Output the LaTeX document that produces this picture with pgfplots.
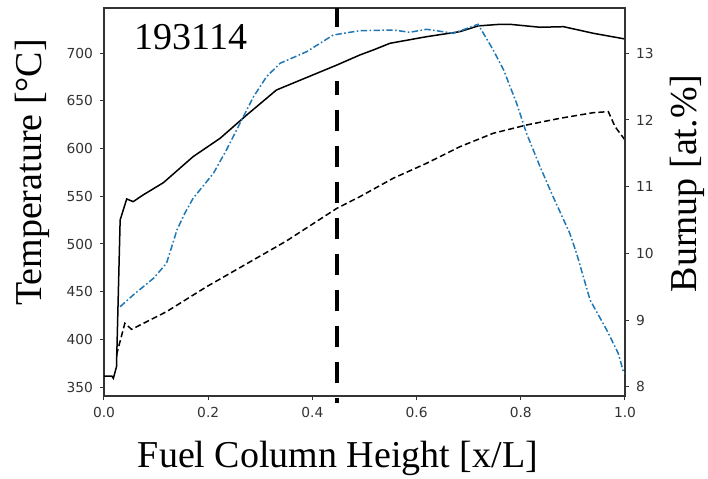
\documentclass[border=0pt]{standalone}
\usepackage{fontspec}
\setmainfont{Liberation Serif}
\newfontfamily\tickfont{DejaVu Sans}
\usepackage{pgfplots}
\pgfplotsset{compat=1.18}
\definecolor{mplblue}{HTML}{1F77B4}

\pgfplotsset{
  common/.style={
    width=260.5pt, height=194pt, scale only axis,
    xmin=0, xmax=1,
    tick align=outside,
    major tick length=2pt,
    tick style={black!80, line width=0.5pt},
    axis line style={black!80, line width=0.6pt},
    ticklabel style={font=\tickfont\fontsize{6.9}{8}\selectfont, text=black!80},
    /pgf/number format/assume math mode=true,
    label style={font=\fontsize{19}{22}\selectfont},
  }
}

\begin{document}
\begin{tikzpicture}
\path[use as bounding box] (-52pt,-41pt) rectangle (302pt,198pt);

\begin{axis}[common,
  ymin=340.56, ymax=747.5,
  ytick={350,400,...,700},
  xtick={0,0.2,0.4,0.6,0.8,1},
  xticklabels={0.0,0.2,0.4,0.6,0.8,1.0},
  xtick pos=bottom, ytick pos=left,
  clip=false,
  xlabel={Fuel Column Height [x/L]},
  xlabel style={at={(axis description cs:0.449,-0.183)}, anchor=base},
  ylabel={Temperature [°C]},
  ylabel style={at={(axis description cs:-0.137,0.576)}, anchor=center},
]
% centerline temperature
\addplot[black, line width=0.75pt] coordinates {
  (0,361.5) (0.015,361.5) (0.018,359.1) (0.024,371.3) (0.031,525.2)
  (0.0436,547.2) (0.056,544.4) (0.075,551.4) (0.114,564.3) (0.171,591.6)
  (0.223,610.9) (0.274,635.3) (0.331,661.5) (0.447,687.7) (0.491,698.2)
  (0.517,703.5) (0.549,710.5) (0.619,717.4) (0.683,722.7) (0.718,728.7)
  (0.76,730.4) (0.779,730.4) (0.837,727.3) (0.882,727.9) (0.939,721.0)
  (1.0,715.0)
};
% surface temperature
\addplot[black, line width=0.75pt, dash pattern=on 3pt off 1.6pt] coordinates {
  (0.024,383.6) (0.04,416.8) (0.053,410.5) (0.12,429.0) (0.197,455.2)
  (0.35,503.1) (0.447,537.4) (0.491,549.6) (0.555,568.9) (0.619,584.6)
  (0.683,602.0) (0.747,616.1) (0.811,624.8) (0.875,631.8) (0.939,637.7)
  (0.968,638.8) (0.981,623.0) (1.0,609.1)
};
% cut position
\addplot[black, line width=2.2pt, dash pattern=on 10.5pt off 7.5pt, dash phase=8pt] coordinates {
  (0.447,332.7) (0.447,671.1)
};
\addplot[black, line width=2.2pt] coordinates {
  (0.447,727.4) (0.447,747.5)
};
\node[anchor=base west, font=\fontsize{19}{22}\selectfont]
  at (axis description cs:0.045,0.892) {193114};
\end{axis}

\begin{axis}[common,
  ymin=7.861, ymax=13.679,
  ytick={8,9,...,13},
  axis x line=none,
  axis y line*=right,
  ylabel={Burnup [at.\%]},
  ylabel style={at={(axis description cs:1.119,0.548)}, anchor=center, rotate=0},
]
\addplot[mplblue, line width=0.75pt, dash pattern=on 3.2pt off 1.2pt on 0.8pt off 1.2pt] coordinates {
  (0.031,9.200) (0.056,9.375) (0.095,9.626) (0.12,9.851) (0.133,10.175)
  (0.14,10.350) (0.155,10.600) (0.171,10.825) (0.21,11.200) (0.235,11.550)
  (0.261,11.950) (0.287,12.349) (0.312,12.649) (0.338,12.850) (0.389,13.024)
  (0.44,13.274) (0.491,13.339) (0.555,13.349) (0.587,13.315) (0.619,13.360)
  (0.671,13.300) (0.709,13.409) (0.718,13.435) (0.747,13.050) (0.767,12.750)
  (0.792,12.250) (0.811,11.800) (0.837,11.299) (0.862,10.849) (0.894,10.301)
  (0.907,10.001) (0.933,9.300) (0.965,8.850) (0.987,8.501) (0.997,8.225)
  (1.0,8.2)
};
\end{axis}
\end{tikzpicture}
\end{document}
